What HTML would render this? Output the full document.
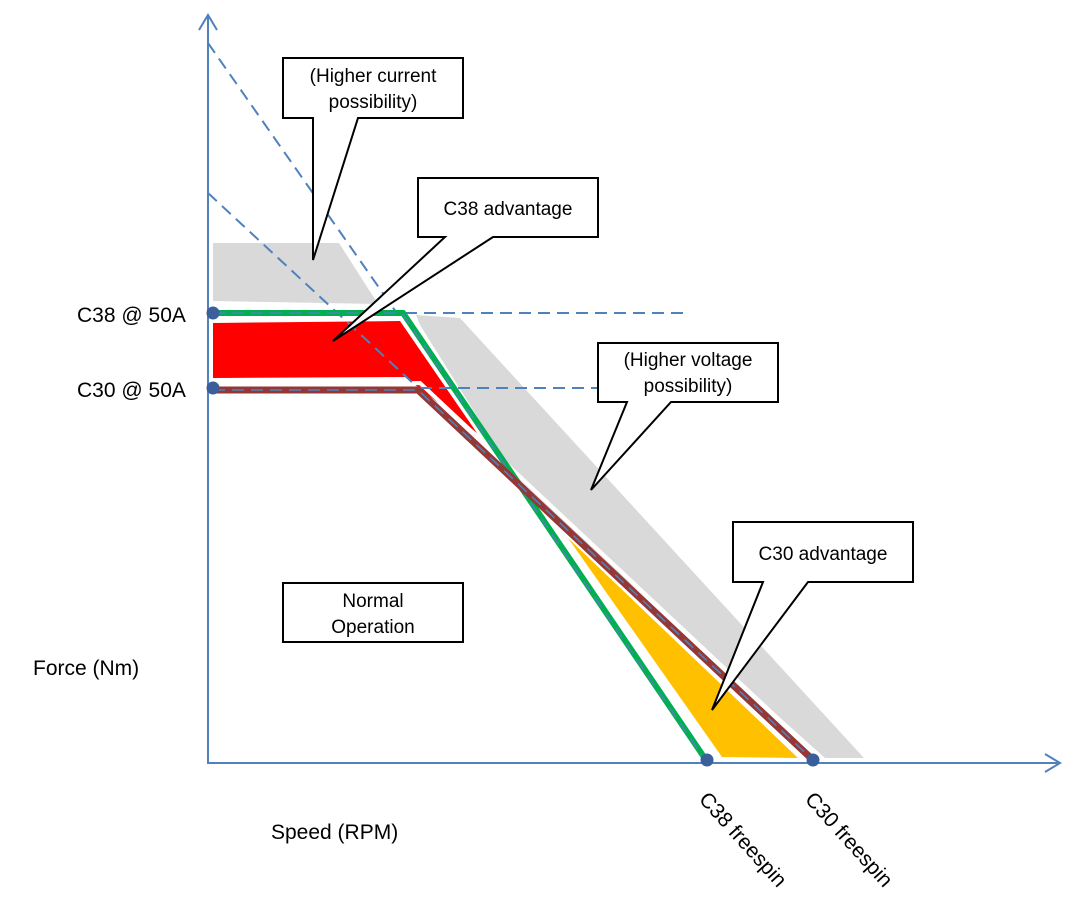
<!DOCTYPE html>
<html><head><meta charset="utf-8"><style>
html,body{margin:0;padding:0;background:#fff;}
svg{display:block;}
text{font-family:"Liberation Sans",sans-serif;font-size:19px;fill:#000;}
</style></head><body>
<svg width="1091" height="905" viewBox="0 0 1091 905" xmlns="http://www.w3.org/2000/svg">
<polygon points="213,243 339,243 378,304 213,301" fill="#d9d9d9"/>
<polygon points="416,315 460,318 864,758 825,758 520,485 420,325" fill="#d9d9d9"/>
<polygon points="213,323 400,321 477,433 405,377 213,378" fill="#ff0000"/>
<polygon points="568,538 798,758 722,757" fill="#ffc000"/>
<polyline points="213,384 420,383 820,758" fill="none" stroke="#fff" stroke-width="4"/>
<g stroke="#4f81bd" stroke-width="2" stroke-dasharray="12,7" fill="none">
<line x1="208" y1="43" x2="396" y2="312"/>
<line x1="208" y1="193" x2="415" y2="385"/>
<line x1="405" y1="313" x2="688" y2="313"/>
<line x1="420" y1="388" x2="600" y2="388"/>
</g>
<polyline points="213,313 403,313 706,760" fill="none" stroke="#00b050" stroke-width="6"/>
<polyline points="213,313 402,313 705,760" fill="none" stroke="#4f81bd" stroke-width="1.6" stroke-dasharray="12,7"/>
<polyline points="213,390 418,390 813,760" fill="none" stroke="#953735" stroke-width="7"/>
<polyline points="213,390 418,390 813,760" fill="none" stroke="#4f81bd" stroke-width="1.6" stroke-dasharray="12,7"/>
<g stroke="#4f81bd" stroke-width="2" fill="none">
<line x1="208" y1="15" x2="208" y2="763"/>
<polyline points="199,30 208,15 217,30"/>
<line x1="207" y1="763" x2="1060" y2="763"/>
<polyline points="1045,754 1060,763 1045,772"/>
</g>
<g fill="#3a5f9a">
<circle cx="213" cy="313" r="6.5"/>
<circle cx="213" cy="388" r="6.5"/>
<circle cx="707" cy="760" r="6.5"/>
<circle cx="813" cy="760" r="6.5"/>
</g>
<g fill="#fff" stroke="#000" stroke-width="2">
<path d="M283,58 H463 V118 H358 L313,260 L313,118 H283 Z"/>
<path d="M418,178 H598 V237 H493 L333,341 L445,237 H418 Z"/>
<path d="M598,343 H778 V402 H671 L591,490 L627,402 H598 Z"/>
<path d="M733,522 H913 V582 H808 L712,710 L763,582 H733 Z"/>
<rect x="283" y="583" width="180" height="59"/>
</g>
<g text-anchor="middle">
<text x="373" y="82">(Higher current</text>
<text x="373" y="108">possibility)</text>
<text x="508" y="215">C38 advantage</text>
<text x="688" y="366">(Higher voltage</text>
<text x="688" y="392">possibility)</text>
<text x="823" y="560">C30 advantage</text>
<text x="373" y="607">Normal</text>
<text x="373" y="633">Operation</text>
</g>
<text x="77" y="322" style="font-size:21px">C38 @ 50A</text>
<text x="77" y="397" style="font-size:21px">C30 @ 50A</text>
<text x="33" y="675" style="font-size:21px">Force (Nm)</text>
<text x="271" y="839" style="font-size:21px">Speed (RPM)</text>
<text x="0" y="0" transform="translate(698,800) rotate(48)" style="font-size:21px">C38 freespin</text>
<text x="0" y="0" transform="translate(804,800) rotate(48)" style="font-size:21px">C30 freespin</text>
</svg>
</body></html>
